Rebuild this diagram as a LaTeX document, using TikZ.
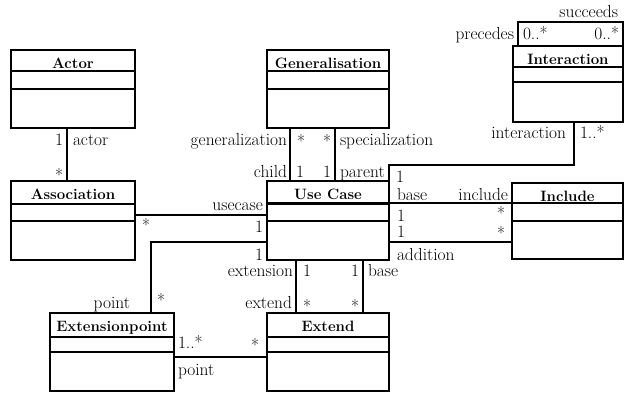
\documentclass[tikz,border=0pt]{standalone}
% class box: name, left, top, width, height, first and second compartment offsets, title
\newcommand\umlclass[8]{%
  \node[cls, minimum width=#4pt, minimum height=#5pt] (#1) at (#2,#3) {};
  \draw[sepa] ([yshift=-#6pt]#1.north west) -- ([yshift=-#6pt]#1.north east);
  \draw[sepb] ([yshift=-#7pt]#1.north west) -- ([yshift=-#7pt]#1.north east);
  \node[title] at ([yshift=-18pt]#1.north) {#8};
}
\begin{document}
\begin{tikzpicture}[x=1pt,y=-1pt,
  every node/.style={font=\rmfamily\fontsize{17.4}{20}\selectfont, inner sep=0pt, outer sep=0pt},
  cls/.style={draw, line width=2.8pt, anchor=north west},
  title/.style={font=\rmfamily\fontsize{15}{18}\selectfont\bfseries, anchor=base},
  sepa/.style={line width=2.3pt},
  sepb/.style={line width=1.9pt},
  conn/.style={line width=1.9pt},
  thickconn/.style={line width=2.8pt},
  lbl/.style={anchor=base west},
  lbr/.style={anchor=base east},
]
\useasboundingbox (0,0) rectangle (625,392);

% classes
\umlclass{actor}{11}{50}{124}{78}{21}{39}{Actor}
\umlclass{assoc}{11}{181}{124}{79}{23}{40}{Association}
\umlclass{gen}{267}{50}{122}{78}{21}{39}{Generalisation}
\umlclass{usecase}{267}{181}{122}{79}{22.5}{40}{Use Case}
\umlclass{interaction}{513}{46}{110}{76}{21}{36}{Interaction}
\umlclass{include}{512}{183}{111}{76}{20}{38}{Include}
\umlclass{extpoint}{50}{313}{124}{78}{24}{39}{Extensionpoint}
\umlclass{extend}{267}{313}{122}{78}{24}{39}{Extend}

% Actor -- Association
\draw[conn] ([xshift=-6pt]actor.south) -- ([xshift=-6pt]actor.south |- assoc.north);
\node[lbr] at (63,145) {1};
\node[lbl] at (73,145) {actor};
\node[lbr] at (63,181) {*};

% Generalisation -- Use Case
\draw[conn] ([xshift=-38pt]gen.south) -- ([xshift=-38pt]gen.south |- usecase.north);
\draw[conn] ([xshift=7pt]gen.south) -- ([xshift=7pt]gen.south |- usecase.north);
\node[lbr] at (287,145) {generalization};
\node[lbl] at (297,147) {*};
\node[lbr] at (287,177) {child};
\node[lbl] at (296,177) {1};
\node[lbr] at (331,147) {*};
\node[lbl] at (340,145) {specialization};
\node[lbr] at (331,177) {1};
\node[lbl] at (340,177) {parent};

% Interaction -- Use Case
\draw[conn] ([xshift=6pt]interaction.south) -- ++(0,43) -| (usecase.north east);
\node[lbr] at (566,138) {interaction};
\node[lbl] at (580,138) {1..*};
\node[lbl] at (396,182) {1};

% Interaction self association
\draw[conn] ([xshift=5pt]interaction.north west) -- ++(0,-24) -| (interaction.north east);
\node[lbr] at (514,39) {precedes};
\node[lbl] at (523,39) {0..*};
\node[lbr] at (619,39) {0..*};
\node[lbr] at (618,17) {succeeds};

% Use Case -- Include
\coordinate (incA) at ([yshift=-20pt]include.north west);
\coordinate (incB) at ([yshift=-59pt]include.north west);
\draw[conn] (usecase.east |- incA) -- (incA);
\draw[conn] (usecase.east |- incB) -- (incB);
\node[lbl] at (397,200) {base};
\node[lbr] at (508,200) {include};
\node[lbl] at (397,221) {1};
\node[lbr] at (505,219) {*};
\node[lbl] at (397,237) {1};
\node[lbr] at (505,239) {*};
\node[lbl] at (397,260) {addition};

% Association -- Use Case
\coordinate (ucA) at ([yshift=-34pt]usecase.north west);
\draw[conn] (ucA) -- (assoc.east |- ucA);
\node[lbr] at (263,210) {usecase};
\node[lbr] at (263,232) {1};
\node[lbl] at (142,231) {*};

% Use Case -- Extensionpoint
\coordinate (ucB) at ([yshift=-61pt]usecase.north west);
\draw[conn] (ucB) -| ([xshift=39pt]extpoint.north);
\node[lbr] at (263,260) {1};
\node[lbl] at (157,306) {*};
\node[lbr] at (130,308) {point};

% Use Case -- Extend
\draw[conn] ([xshift=-32pt]usecase.south) -- ([xshift=-32pt]usecase.south |- extend.north);
\draw[thickconn] ([xshift=35pt]usecase.south) -- ([xshift=35pt]usecase.south |- extend.north);
\node[lbr] at (293,276) {extension};
\node[lbl] at (303,276) {1};
\node[lbr] at (292,308) {extend};
\node[lbl] at (303,312) {*};
\node[lbr] at (359,276) {1};
\node[lbl] at (368,276) {base};
\node[lbr] at (359,312) {*};

% Extensionpoint -- Extend
\coordinate (epA) at ([yshift=-44pt]extpoint.north east);
\draw[conn] (epA) -- (extend.west |- epA);
\node[lbl] at (178,348) {1..*};
\node[lbr] at (259,351) {*};
\node[lbl] at (178,375) {point};
\end{tikzpicture}
\end{document}
